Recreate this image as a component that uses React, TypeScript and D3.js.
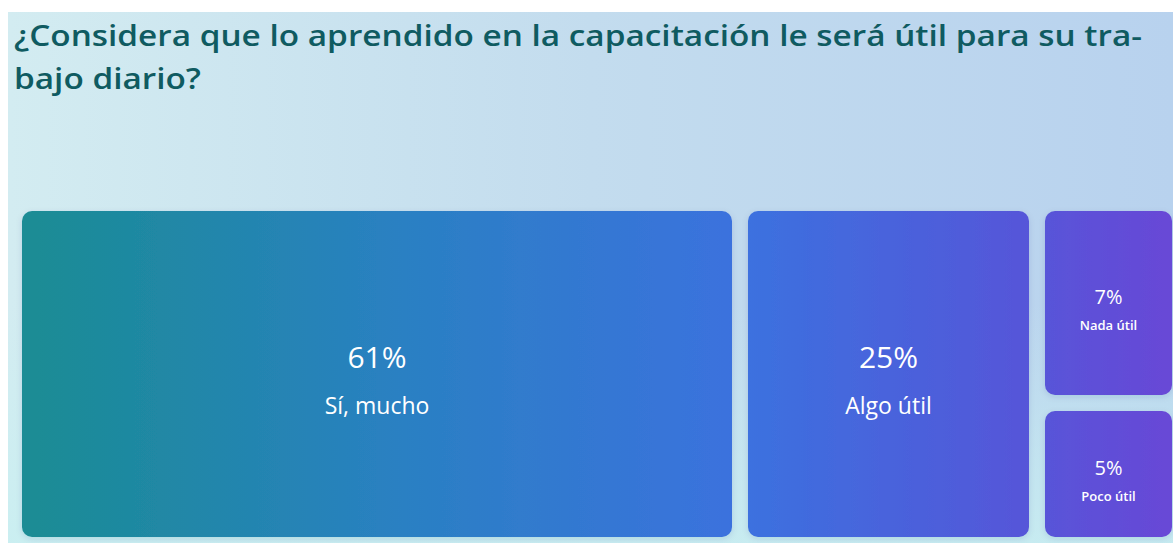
import React, { useEffect, useRef } from "react";
import * as d3 from "d3";

// survey answers (percent of respondents)
const categories = ["Sí, mucho", "Algo útil", "Nada útil", "Poco útil"];
const percentages = [61, 25, 7, 5];
const titleLines = [
  "¿Considera que lo aprendido en la capacitación le será útil para su tra-",
  "bajo diario?",
];

const PAGE_W = 1173;
const PAGE_H = 543;
const OFF_X = 8; // white strip on the left
const OFF_Y = 12; // white strip on top
const FONT = "'Open Sans', 'Noto Sans', sans-serif";

export default function App() {
  const titleRef = useRef<SVGGElement>(null);

  useEffect(() => {
    document.documentElement.style.overflow = "hidden";
    document.body.style.margin = "0";
    // stretch title so the first line spans the same width as the original
    const g = d3.select(titleRef.current);
    const nodes = g.selectAll<SVGTextElement, unknown>("text").nodes();
    if (!nodes.length) return;
    const target = 1128;
    const first = nodes[0].getComputedTextLength();
    const k = target / first;
    nodes.forEach((n) => {
      const len = n.getComputedTextLength();
      n.setAttribute("textLength", String(len * k));
      n.setAttribute("lengthAdjust", "spacingAndGlyphs");
    });
  }, []);

  const W = PAGE_W - OFF_X;
  const H = PAGE_H - OFF_Y;

  // treemap layout
  const x0 = 14;
  const y0 = 199;
  const tw = 1150;
  const th = 326;
  const data = categories.map((name, i) => ({ name, value: percentages[i] }));
  const root = d3
    .hierarchy<any>({ children: data })
    .sum((d: any) => d.value || 0)
    .sort((a, b) => (b.value || 0) - (a.value || 0));
  d3.treemap<any>().tile(d3.treemapSquarify).size([tw, th]).paddingInner(16).round(true)(root);
  const leaves = root.leaves() as d3.HierarchyRectangularNode<any>[];

  return (
    <svg width={PAGE_W} height={PAGE_H} style={{ display: "block" }}>
      <defs>
        <linearGradient id="bgH" x1="0" y1="0" x2="1" y2="0">
          <stop offset="0%" stopColor="#d3ecf1" />
          <stop offset="50%" stopColor="#c3dcee" />
          <stop offset="100%" stopColor="#b8d2ee" />
        </linearGradient>
        <linearGradient id="bgV" x1="0" y1="0" x2="0" y2="1">
          <stop offset="55%" stopColor="#c9eff1" stopOpacity={0} />
          <stop offset="100%" stopColor="#c9eff1" stopOpacity={0.85} />
        </linearGradient>
        <linearGradient
          id="tileFill"
          gradientUnits="userSpaceOnUse"
          x1={x0}
          y1={0}
          x2={x0 + tw}
          y2={0}
        >
          <stop offset="0%" stopColor="#1b8c95" />
          <stop offset="32%" stopColor="#2a80c3" />
          <stop offset="62%" stopColor="#3c71df" />
          <stop offset="85%" stopColor="#5457d9" />
          <stop offset="100%" stopColor="#6a47d6" />
        </linearGradient>
        <filter id="shadow" x="-10%" y="-10%" width="120%" height="120%">
          <feDropShadow dx="0" dy="2" stdDeviation="3" floodColor="#1c3d6e" floodOpacity="0.12" />
        </filter>
      </defs>

      <rect x={0} y={0} width={PAGE_W} height={PAGE_H} fill="#ffffff" />

      <g transform={`translate(${OFF_X},${OFF_Y})`}>
        <rect x={0} y={0} width={W} height={H} fill="url(#bgH)" />
        <rect x={0} y={0} width={W} height={H} fill="url(#bgV)" />

        <g ref={titleRef} fill="#0f5b61" fontFamily={FONT} fontWeight={600} fontSize={28}>
          {titleLines.map((t, i) => (
            <text key={i} x={6} y={34 + i * 43}>
              {t}
            </text>
          ))}
        </g>

        <g transform={`translate(${x0},${y0})`}>
          {leaves.map((d, i) => {
            const w = d.x1 - d.x0;
            const h = d.y1 - d.y0;
            const cx = (d.x0 + d.x1) / 2;
            const cy = (d.y0 + d.y1) / 2;
            const big = w > 200;
            return (
              <g key={i}>
                <rect
                  x={d.x0}
                  y={d.y0}
                  width={w}
                  height={h}
                  rx={10}
                  ry={10}
                  fill="url(#tileFill)"
                  filter="url(#shadow)"
                />
                <text
                  x={cx}
                  y={big ? cy - 6 : cy + 1}
                  textAnchor="middle"
                  fill="#ffffff"
                  fontFamily={FONT}
                  fontWeight={500}
                  fontSize={big ? 30 : 20}
                >
                  {`${d.data.value}%`}
                </text>
                <text
                  x={cx}
                  y={big ? cy + 40 : cy + 27}
                  textAnchor="middle"
                  fill="#ffffff"
                  fontFamily={FONT}
                  fontWeight={big ? 500 : 600}
                  fontSize={big ? 23 : 13}
                >
                  {d.data.name}
                </text>
              </g>
            );
          })}
        </g>
      </g>
    </svg>
  );
}
